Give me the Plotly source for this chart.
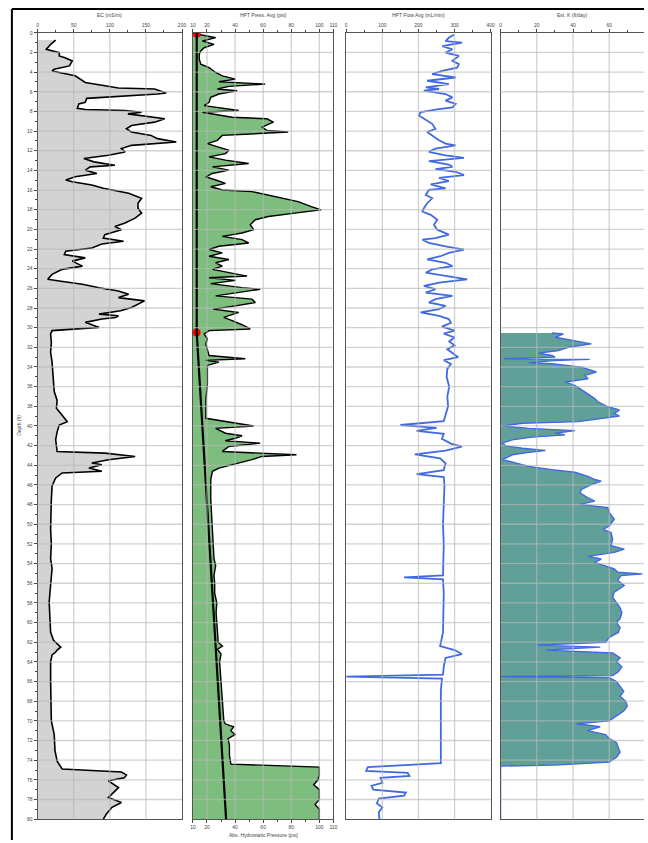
import plotly.graph_objects as go

# ---------------- data ----------------
ec_depth = [0.74, 1.18, 1.68, 1.85, 2.02, 2.36, 2.53, 2.86, 3.37, 3.70, 3.87, 4.04, 4.21, 4.38, 5.05, 5.39,
            5.62, 5.72, 6.13, 6.23, 6.46, 6.67, 7.07, 7.24, 7.68, 7.81, 7.91, 8.08, 8.25, 8.59, 8.75, 9.09,
            9.43, 9.76, 10.1, 10.44, 10.77, 11.11, 11.28, 11.45, 11.78, 12.12, 12.46, 12.63, 12.79, 13.13,
            13.47, 13.64, 13.97, 14.31, 14.65, 14.98, 15.15, 15.49, 15.82, 16.33, 16.84, 17.34, 17.85, 18.35,
            18.86, 19.36, 19.70, 20.03, 20.54, 20.88, 21.21, 21.48, 21.89, 22.22, 22.56, 22.9, 23.23, 23.74,
            24.07, 24.58, 25.08, 25.25, 25.59, 25.93, 26.26, 26.6, 26.94, 27.27, 27.61, 27.95, 28.28, 28.62,
            28.79, 28.96, 29.12, 29.46, 29.7, 29.97, 30.3, 30.64, 31.5, 32.5, 33.5, 34.5, 35.5, 36.5, 37.4,
            38.2, 38.9, 39.56, 39.9, 40.6, 41.4, 42.0, 42.6, 42.76, 43.1, 43.43, 43.77, 43.94, 44.28, 44.61,
            44.78, 45.29, 46.1, 47.5, 49.0, 50.5, 52.0, 53.5, 54.5, 56.0, 57.9, 59.5, 61.0, 61.8, 62.2, 62.5,
            62.8, 63.0, 63.3, 64.0, 66.0, 68.0, 70.0, 71.4, 73.0, 74.1, 74.9, 75.2, 75.5, 75.8, 76.1, 76.4,
            76.8, 77.3, 77.8, 78.3, 78.8, 79.5, 80.0]
ec_value = [25, 18, 12, 20, 30, 30, 38, 48, 44, 23, 20, 30, 39, 52, 66, 93,
            112, 162, 178, 166, 107, 68, 66, 57, 55, 66, 121, 144, 125, 166, 176, 162,
            130, 123, 130, 157, 166, 192, 153, 130, 116, 121, 98, 78, 64, 78,
            107, 73, 66, 82, 52, 39, 48, 75, 91, 126, 144, 139, 139, 144,
            135, 121, 107, 116, 93, 91, 119, 89, 75, 39, 37, 66, 48, 62,
            34, 20, 14, 30, 62, 85, 112, 126, 112, 148, 139, 130, 115, 85,
            112, 108, 89, 66, 75, 85, 20, 18, 19, 18, 20, 21, 21, 23, 27,
            26, 34, 41, 30, 27, 25, 26, 27, 93, 135, 98, 75, 89, 71, 89,
            34, 25, 20, 19, 18, 18, 19, 18, 20, 18, 16, 17, 18, 22, 28, 32,
            27, 25, 20, 18, 18, 18, 19, 23, 24, 27, 34, 116, 123, 120, 98, 104,
            112, 105, 98, 116, 103, 95, 91]

press_depth = [0.17, 0.5, 0.84, 1.18, 1.52, 1.85, 2.19, 2.69, 3.2, 3.54, 4.04, 4.38, 4.71, 4.98, 5.22, 5.45,
               5.72, 5.89, 6.23, 6.57, 7.07, 7.41, 7.91, 8.08, 8.59, 8.75, 9.09, 9.6, 9.93, 10.1, 10.44,
               10.94, 11.28, 11.62, 11.95, 12.29, 12.63, 12.96, 13.3, 13.64, 13.97, 14.31, 14.65, 14.98,
               15.32, 15.66, 15.99, 16.16, 16.67, 17.17, 17.68, 18.01, 18.35, 18.69, 19.02, 19.53, 20.03,
               20.37, 20.71, 21.04, 21.38, 21.72, 22.05, 22.39, 22.73, 23.06, 23.4, 23.74, 24.07, 24.41,
               24.75, 24.92, 25.19, 25.52, 25.93, 26.09, 26.43, 26.77, 27.1, 27.44, 27.78, 28.11, 28.45,
               28.96, 29.29, 29.7, 30.13, 30.3, 30.64, 31.14, 31.65, 32.32, 32.83, 33.16, 33.33, 33.5,
               33.84, 35.7, 37.37, 39.22, 39.56, 40.0, 40.24, 40.5, 40.74, 41.0, 41.25, 41.5, 41.75, 42.09,
               42.4, 42.59, 42.93, 43.1, 43.43, 43.94, 44.28, 44.61, 45.45, 47.47, 50.84, 53.5, 54.2, 55.2,
               56.0, 57.0, 58.0, 59.0, 60.0, 61.0, 62.0, 62.4, 62.7, 63.2, 64.0, 65.0, 66.0, 67.0, 68.0,
               69.0, 70.0, 70.3, 70.6, 71.0, 71.4, 71.8, 72.5, 73.5, 74.4, 74.7, 75.5, 76.0, 76.5, 77.0,
               78.0, 78.5, 79.0, 80.0]
press_value = [14.5, 26.2, 16.8, 25, 18, 15.6, 14.5, 14.5, 15.6, 21.5, 26.2, 30.9, 40.3, 28.5, 61.4, 35.6,
               27.4, 41.5, 28.5, 22.7, 21.5, 18, 42.6, 16.8, 37.9, 62.6, 67.3, 59.1, 62.6, 77.8, 30.9,
               27.4, 20.3, 28.5, 35.6, 33.2, 21.5, 33.2, 49.7, 23.9, 35.6, 23.9, 19.2, 26.2,
               33.2, 22.7, 30.9, 52, 68.5, 84.9, 94.3, 101.3, 82.5, 63.7, 54.4, 50.8, 53.2,
               45, 30.9, 45, 49.7, 28.5, 21.5, 30.9, 21.5, 35.6, 26.2, 30.9, 23.9, 35.6,
               48.5, 21.5, 40.3, 22.7, 45, 57.9, 42.6, 26.2, 52, 54.4, 40.3, 24.5, 42.6,
               32, 37.9, 45, 50.8, 21.5, 18, 20.3, 19.2, 20.3, 21.5, 47.3, 19.2, 28.5,
               20.3, 20.3, 19.2, 19.2, 33.2, 53.2, 26.2, 30, 33.2, 45, 40.3, 33, 57.9, 35.6,
               33, 30.9, 83.7, 59.1, 52, 37.9, 28.5, 23.9, 22.7, 22.7, 23.9, 25, 26.2, 25,
               25.5, 25.5, 27, 26.5, 27, 27.5, 28, 31, 27.5, 30, 29, 29.5, 30, 30.5, 30.5,
               31, 32, 33, 39, 37, 40, 35, 36, 36, 37, 100, 100, 99, 96, 100,
               100, 97, 100, 100]

hydro_depth = [0.0, 30.5, 80.0]
hydro_value = [12.7, 12.7, 33.6]

water_depth = [0.1, 30.5]
water_value = [12.7, 12.6]

flow_depth = [0.2, 0.505, 0.84, 1.01, 1.35, 1.68, 2.02, 2.36, 2.86, 3.2, 3.54, 3.87, 4.21, 4.55, 4.88, 5.22,
              5.56, 5.72, 5.89, 6.23, 6.57, 6.9, 7.24, 7.58, 7.81, 8.08, 8.42, 8.75, 9.26, 9.76, 10.1,
              10.44, 10.94, 11.28, 11.45, 11.78, 12.12, 12.46, 12.73, 13.06, 13.4, 13.64, 13.87, 14.14,
              14.48, 14.75, 15.08, 15.42, 15.82, 15.99, 16.5, 16.84, 17.34, 17.85, 18.18, 18.52, 19.02,
              19.53, 20.03, 20.54, 20.88, 21.04, 21.38, 21.72, 22.05, 22.39, 22.73, 23.06, 23.4, 23.74,
              24.07, 24.41, 24.85, 25.08, 25.42, 25.76, 26.09, 26.43, 26.77, 27.1, 27.44, 27.78, 28.11,
              28.45, 28.79, 29.12, 29.5, 29.9, 30.3, 30.6, 31.0, 31.4, 31.8, 32.2, 32.6, 33.0, 33.3, 33.7,
              34.2, 35.0, 36.0, 37.0, 38.0, 38.8, 39.5, 39.9, 40.2, 40.5, 40.8, 41.3, 41.8, 42.1, 42.5,
              42.9, 43.3, 43.8, 44.5, 44.9, 45.2, 46.0, 48.0, 50.0, 52.0, 54.0, 55.2, 55.4, 55.6, 57.0,
              59.0, 61.0, 62.4, 62.8, 63.2, 63.6, 64.5, 65.3, 65.5, 65.7, 67.0, 69.0, 71.0, 73.0, 74.3,
              74.7, 75.1, 75.3, 75.6, 75.8, 76.3, 76.6, 77.0, 77.3, 77.6, 77.9, 78.4, 78.8, 79.3, 80.0]
flow_value = [298, 284, 275, 321, 266, 294, 275, 312, 294, 312, 307, 266, 238, 303, 224, 284,
              220, 257, 215, 275, 294, 275, 303, 294, 247, 206, 201, 215, 238, 247, 224,
              238, 257, 275, 303, 247, 229, 275, 326, 229, 284, 294, 247, 303,
              326, 257, 284, 234, 275, 229, 220, 238, 224, 215, 211, 234, 252,
              243, 252, 284, 247, 211, 229, 275, 326, 284, 261, 224, 275, 294,
              238, 220, 294, 335, 257, 215, 247, 220, 294, 247, 229, 275, 257,
              206, 257, 284, 290, 265, 300, 270, 300, 285, 300, 280, 295, 310, 270, 290,
              280, 278, 285, 280, 282, 275, 270, 150, 250, 195, 270, 265, 290, 320, 275,
              190, 260, 275, 270, 195, 270, 272, 270, 268, 270, 268, 268, 160, 268, 270,
              270, 268, 260, 300, 320, 275, 270, 268, 0, 265, 262, 262, 262, 260, 262,
              60, 55, 170, 175, 95, 100, 70, 75, 165, 160, 90, 85, 100, 90, 92]

k_depth = [30.54, 30.64, 30.98, 31.48, 31.65, 31.99, 32.32, 32.59, 32.83, 33.0, 33.16, 33.22, 33.35, 33.57,
           33.67, 34.01, 34.34, 34.51, 34.85, 35.19, 35.52, 35.86, 36.2, 36.53, 36.87, 37.21, 37.54, 38.05,
           38.38, 38.72, 38.99, 39.23, 39.56, 39.73, 40.0, 40.24, 40.47, 40.74, 40.91, 41.14, 41.41, 41.75,
           42.02, 42.26, 42.49, 42.69, 42.93, 43.43, 43.77, 44.11, 44.44, 44.71, 45.12, 45.45, 45.62,
           45.96, 46.46, 46.8, 47.31, 47.64, 47.98, 48.32, 48.82, 49.49, 50.17, 50.51, 50.84, 51.52,
           52.19, 52.53, 52.86, 53.27, 53.54, 53.87, 54.21, 54.55, 54.88, 55.05, 55.22, 55.72, 56.23,
           56.9, 57.41, 58.0, 58.5, 59.0, 59.6, 60.0, 60.5, 61.0, 61.5, 62.0, 62.3, 62.5, 62.8, 63.1,
           63.6, 64.0, 64.5, 65.0, 65.4, 65.5, 65.6, 66.0, 66.5, 67.0, 67.5, 68.0, 68.5, 69.0, 69.5,
           70.0, 70.3, 70.6, 71.0, 71.4, 71.8, 72.2, 72.7, 73.2, 73.7, 74.2, 74.5, 74.6, 80.0]
k_value = [28.3, 34.7, 30.2, 44.7, 50.1, 37.4, 32, 21.1, 28.3, 30.2, 2, 49.2, 29.2, 15.6,
           28.3, 44.7, 50.1, 52.9, 46.5, 48.3, 35.6, 41, 43.8, 46.5, 49.2, 52, 53.8, 59.2,
           65.6, 62.8, 65.6, 55.6, 42.9, 12, 1.1, 15.6, 41, 30.2, 35.6, 17.4, 6.5, 1.1,
           2.9, 12, 24.7, 15.6, 6.5, 1.1, 8.4, 15.6, 28.3, 41, 48.3, 52, 55.6,
           50.1, 44.7, 43.8, 48.3, 52, 43.8, 59.2, 60.1, 62.8, 60.1, 56.5, 61, 61.9,
           61, 68.3, 62.8, 48.3, 55.6, 52, 57.4, 62.8, 64.7, 78.3, 66.5, 64.7, 68.3,
           62.8, 61.9, 64, 66, 67, 66, 64, 66, 65, 60, 58, 20, 55, 25, 62,
           66, 64, 67, 65, 62, 0, 60, 64, 66, 68, 66, 69, 70, 68, 64,
           60, 42, 55, 48, 58, 60, 64, 65, 66, 64, 60, 30, 0, 0]

ec_ticks = [0, 50, 100, 150, 200]
press_ticks = [10, 20, 40, 60, 80, 100, 110]
flow_ticks = [0, 100, 200, 300, 400]
k_ticks = [0, 20, 40, 60, 80]
depth_ticks = list(range(0, 81, 2))

# ---------------- layout helpers ----------------
W, H = 648, 843
def fx(p):
    return p / W
def fy(p):
    return 1 - p / H

YDOM = [fy(822), fy(30)]
FONT = "Liberation Sans, Arial, sans-serif"
TXT = "#444444"
GRID = "rgba(185,185,185,0.65)"

fig = go.Figure()

fig.add_trace(go.Scatter(x=ec_value, y=ec_depth, mode="lines", fill="tozerox",
                         fillcolor="rgb(211,211,211)", line=dict(color="black", width=1.6),
                         xaxis="x", yaxis="y"))
fig.add_trace(go.Scatter(x=press_value, y=press_depth, mode="lines", fill="tozerox",
                         fillcolor="rgb(125,189,125)", line=dict(color="black", width=1.4),
                         xaxis="x2", yaxis="y2"))
fig.add_trace(go.Scatter(x=hydro_value, y=hydro_depth, mode="lines",
                         line=dict(color="black", width=2.2), xaxis="x5", yaxis="y2"))
fig.add_trace(go.Scatter(x=water_value, y=water_depth, mode="markers",
                         marker=dict(color="red", size=8), xaxis="x2", yaxis="y2"))
fig.add_trace(go.Scatter(x=flow_value, y=flow_depth, mode="lines",
                         line=dict(color="rgb(65,105,225)", width=1.8), xaxis="x3", yaxis="y3"))
fig.add_trace(go.Scatter(x=k_value, y=k_depth, mode="lines", fill="tozerox",
                         fillcolor="rgb(96,160,152)", line=dict(color="rgb(65,105,225)", width=1.4),
                         xaxis="x4", yaxis="y4"))

def xax(dom, rng, ticks, minor, yref, mirror=True):
    return dict(domain=dom, range=rng, side="top", anchor=yref, tickmode="array", tickvals=ticks,
                showgrid=False, zeroline=False, showline=True, mirror=mirror, linecolor="#555555",
                linewidth=1, ticks="outside", ticklen=3, tickwidth=0.8, tickcolor="#444444",
                tickfont=dict(family=FONT, size=5, color=TXT),
                minor=dict(tickvals=minor, ticks="outside", ticklen=2, tickcolor="#444444", showgrid=False))

xd1 = [fx(35), fx(181)]
xd2 = [fx(192), fx(334)]
xd3 = [fx(347), fx(493)]
xd4 = [fx(503), 1.0]

fig.update_layout(
    width=W, height=H, margin=dict(l=0, r=0, t=0, b=0),
    paper_bgcolor="white", plot_bgcolor="white", showlegend=False,
    xaxis=xax(xd1, [0, 200], ec_ticks, [25, 75, 125, 175], "y"),
    xaxis2=xax(xd2, [10, 110], press_ticks, [30, 50, 70, 90], "y2"),
    xaxis3=xax(xd3, [0, 400], flow_ticks, [50, 150, 250, 350], "y3"),
    xaxis4=xax(xd4, [0, 79.2], k_ticks, [10, 30, 50, 70], "y4"),
    xaxis5=dict(overlaying="x2", side="bottom", anchor="y2", range=[10, 110], tickmode="array",
                tickvals=press_ticks, showgrid=False, zeroline=False, showline=False,
                ticks="outside", ticklen=3, tickwidth=0.8, tickcolor="#444444",
                tickfont=dict(family=FONT, size=5, color=TXT),
                minor=dict(tickvals=[30, 50, 70, 90], ticks="outside", ticklen=2, tickcolor="#444444")),
    yaxis=dict(domain=YDOM, range=[80, 0], anchor="x", tickmode="array", tickvals=depth_ticks,
               showgrid=False, zeroline=False, showline=True, mirror=True, linecolor="#555555",
               ticks="outside", ticklen=3, tickwidth=0.8, tickcolor="#444444",
               tickfont=dict(family=FONT, size=5, color=TXT),
               minor=dict(tickvals=list(range(1, 80, 2)), ticks="outside", ticklen=2, tickcolor="#444444")),
)
for i in (2, 3, 4):
    fig.update_layout(**{f"yaxis{i}": dict(domain=YDOM, range=[80, 0], matches="y", anchor=f"x{i}",
                                           showticklabels=False, showgrid=False, zeroline=False,
                                           showline=True, mirror=(i != 4), linecolor="#555555", ticks="")})

shapes = []
grid_x = {"x": [50, 100, 150], "x2": [20, 40, 60, 80, 100], "x3": [100, 200, 300], "x4": [20, 40, 60]}
for xr, vals in grid_x.items():
    yr = "y" if xr == "x" else "y" + xr[1:]
    for d in range(2, 80, 2):
        shapes.append(dict(type="line", xref=f"{xr} domain", yref=yr, x0=0, x1=1, y0=d, y1=d,
                           line=dict(color=GRID, width=1.3), layer="above"))
    for v in vals:
        shapes.append(dict(type="line", xref=xr, yref=f"{yr} domain", x0=v, x1=v, y0=0, y1=1,
                           line=dict(color=GRID, width=1.3), layer="above"))
# outer frame
shapes.append(dict(type="line", xref="paper", yref="paper", x0=fx(9), x1=1, y0=fy(6), y1=fy(6),
                   line=dict(color="black", width=2)))
shapes.append(dict(type="line", xref="paper", yref="paper", x0=fx(9), x1=fx(9), y0=fy(6), y1=0,
                   line=dict(color="black", width=2)))
fig.update_layout(shapes=shapes)

def ann(text, x, y, angle=0):
    return dict(text=text, x=x, y=y, xref="paper", yref="paper", showarrow=False, textangle=angle,
                xanchor="center", yanchor="middle", font=dict(family=FONT, size=5, color=TXT))

fig.update_layout(annotations=[
    ann("EC (mS/m)", fx(108), fy(12)),
    ann("HPT Press. Avg (psi)", fx(263), fy(12)),
    ann("HPT Flow Avg (mL/min)", fx(420), fy(12)),
    ann("Est. K (ft/day)", fx(576), fy(12)),
    ann("Abs. Hydrostatic Pressure (psi)", fx(263), fy(838)),
    ann("Depth (ft)", fx(16), fy(425), -90),
])

fig.write_html("out.html", config={"displayModeBar": False},
               post_script="document.body.style.margin='0px';document.body.style.overflow='hidden';")
